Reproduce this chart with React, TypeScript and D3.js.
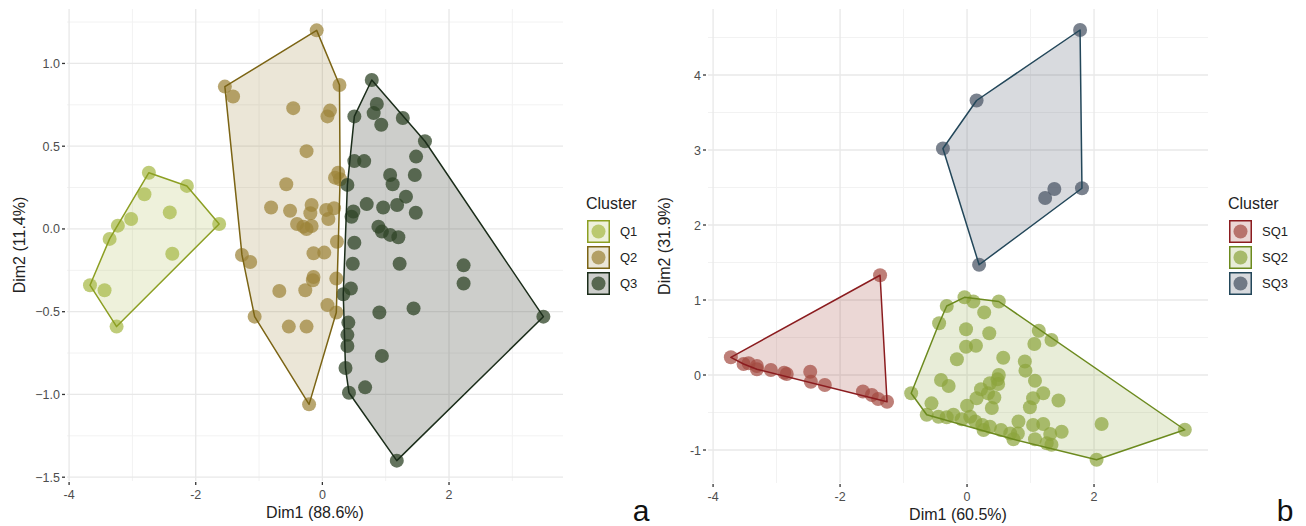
import React from 'react';
import * as d3 from 'd3';

type Pt = [number, number];

// panel a: PCA coordinates per cluster (Dim1, Dim2)
const q1Points: Pt[] = [
  [-2.74, 0.34], [-2.81, 0.21], [-2.14, 0.26], [-2.41, 0.10], [-3.02, 0.06], [-3.23, 0.02],
  [-1.63, 0.03], [-3.36, -0.06], [-2.37, -0.15], [-3.67, -0.34], [-3.44, -0.37], [-3.25, -0.59],
];
const q2Points: Pt[] = [
  [-0.09, 1.2], [-1.54, 0.86], [-1.41, 0.8], [0.27, 0.87], [-0.46, 0.73], [0.12, 0.715],
  [0.08, 0.68], [-0.25, 0.47], [-0.57, 0.27], [0.25, 0.34], [0.2, 0.31], [0.28, 0.3],
  [-0.81, 0.13], [-0.51, 0.11], [-0.17, 0.145], [-0.19, 0.095], [0.06, 0.115], [0.185, 0.125],
  [0.095, 0.06], [-0.4, 0.03], [-0.3, 0.014], [-0.17, 0.018], [-0.25, 0.0], [0.23, -0.077],
  [-1.27, -0.157], [-1.14, -0.2], [-0.14, -0.147], [0.03, -0.143], [-0.14, -0.29], [-0.15, -0.31],
  [0.22, -0.3], [-0.68, -0.375], [-0.27, -0.37], [0.08, -0.46], [0.22, -0.505], [-1.07, -0.53],
  [-0.53, -0.59], [-0.25, -0.59], [-0.21, -1.06],
];
const q3Points: Pt[] = [
  [0.78, 0.9], [0.86, 0.755], [0.81, 0.7], [0.505, 0.68], [0.93, 0.63], [1.27, 0.67],
  [1.62, 0.53], [1.48, 0.437], [0.505, 0.41], [0.66, 0.41], [1.46, 0.326], [1.07, 0.326],
  [1.11, 0.27], [0.395, 0.266], [1.32, 0.195], [0.7, 0.15], [0.96, 0.13], [1.18, 0.145],
  [1.475, 0.098], [0.49, 0.105], [0.46, 0.074], [0.885, 0.014], [0.94, -0.016], [1.07, -0.036],
  [1.2, -0.05], [0.505, -0.083], [0.48, -0.21], [1.22, -0.21], [2.23, -0.22], [2.23, -0.33],
  [0.45, -0.36], [0.33, -0.395], [0.9, -0.505], [1.44, -0.48], [0.41, -0.566], [0.395, -0.64],
  [0.395, -0.707], [0.94, -0.767], [0.365, -0.84], [0.675, -0.957], [0.42, -0.99], [1.175, -1.4],
  [3.49, -0.53],
];

// panel b
const sq1Points: Pt[] = [
  [-1.37, 1.33], [-3.72, 0.236], [-3.52, 0.147], [-3.44, 0.156], [-3.31, 0.12], [-3.31, 0.076],
  [-3.09, 0.067], [-2.88, 0.03], [-2.84, 0.013], [-2.47, 0.044], [-2.46, -0.09], [-2.24, -0.133],
  [-1.64, -0.22], [-1.5, -0.267], [-1.4, -0.32], [-1.26, -0.356],
];
const sq2Points: Pt[] = [
  [-0.04, 1.036], [0.1, 0.98], [-0.32, 0.92], [0.5, 0.98], [0.27, 0.835], [-0.44, 0.69],
  [-0.016, 0.61], [0.35, 0.556], [1.13, 0.59], [1.33, 0.467], [1.06, 0.413], [-0.016, 0.377],
  [0.14, 0.39], [0.57, 0.23], [-0.16, 0.21], [0.91, 0.18], [0.92, 0.058], [0.5, 0.0],
  [0.48, -0.058], [0.49, -0.12], [0.36, -0.11], [-0.41, -0.067], [-0.29, -0.147], [1.07, -0.076],
  [0.22, -0.19], [0.33, -0.244], [0.43, -0.3], [1.2, -0.244], [1.04, -0.31], [1.44, -0.34],
  [-0.88, -0.244], [-0.56, -0.378], [0.0, -0.41], [0.15, -0.31], [0.39, -0.44], [0.99, -0.43],
  [-0.635, -0.53], [-0.45, -0.556], [-0.32, -0.564], [-0.215, -0.53], [-0.083, -0.59], [0.05, -0.556],
  [0.13, -0.62], [0.24, -0.667], [0.26, -0.733], [0.36, -0.69], [0.535, -0.733], [0.68, -0.78],
  [0.81, -0.62], [0.8, -0.78], [1.04, -0.667], [1.2, -0.653], [1.31, -0.787], [1.49, -0.756],
  [1.07, -0.857], [1.255, -0.91], [1.33, -0.93], [0.73, -0.857], [2.12, -0.653], [2.04, -1.13],
  [3.43, -0.73],
];
const sq3Points: Pt[] = [
  [1.78, 4.6], [0.15, 3.66], [-0.38, 3.02], [1.375, 2.48], [1.23, 2.36], [1.81, 2.49], [0.19, 1.47],
];

const clusterNamesA = ['Q1', 'Q2', 'Q3'];
const clusterNamesB = ['SQ1', 'SQ2', 'SQ3'];
const xTicksA = [-4, -2, 0, 2];
const yTicksA = [-1.5, -1.0, -0.5, 0.0, 0.5, 1.0];
const xTicksB = [-4, -2, 0, 2];
const yTicksB = [-1, 0, 1, 2, 3, 4];

const FONT = '"Liberation Sans", Arial, Helvetica, sans-serif';

interface ClusterStyle {
  name: string;
  points: Pt[];
  point: string;
  pointOpacity: number;
  line: string;
  fill: string;
  fillOpacity: number;
}

interface PanelProps {
  left: number; right: number; top: number; bottom: number;
  xDomain: [number, number]; yDomain: [number, number];
  xTicks: number[]; yTicks: number[];
  yFormat: (v: number) => string;
  clusters: ClusterStyle[];
  xTitle: string; yTitle: string; yTitleX: number;
  legendX: number;
  letter: string; letterX: number;
}

function minors(ticks: number[], domain: [number, number]) {
  const step = ticks[1] - ticks[0];
  return d3.range(ticks[0] - step / 2, domain[1], step).filter(v => v > domain[0] && v < domain[1]);
}

function Panel(props: PanelProps) {
  const { left, right, top, bottom, xDomain, yDomain, xTicks, yTicks, yFormat, clusters } = props;
  const x = d3.scaleLinear().domain(xDomain).range([left, right]);
  const y = d3.scaleLinear().domain(yDomain).range([bottom, top]);
  const xMinor = minors(xTicks, xDomain);
  const yMinor = minors(yTicks, yDomain);

  const hulls = clusters.map(c => d3.polygonHull(c.points.map(p => [x(p[0]), y(p[1])] as [number, number])));

  return (
    <g>
      {/* grid */}
      {xMinor.map(v => <line key={'xm' + v} x1={x(v)} x2={x(v)} y1={top} y2={bottom} stroke="#f2f2f2" strokeWidth={1} />)}
      {yMinor.map(v => <line key={'ym' + v} x1={left} x2={right} y1={y(v)} y2={y(v)} stroke="#f2f2f2" strokeWidth={1} />)}
      {xTicks.map(v => <line key={'xg' + v} x1={x(v)} x2={x(v)} y1={top} y2={bottom} stroke="#e8e8e8" strokeWidth={1.3} />)}
      {yTicks.map(v => <line key={'yg' + v} x1={left} x2={right} y1={y(v)} y2={y(v)} stroke="#e8e8e8" strokeWidth={1.3} />)}

      {/* hull fills */}
      {hulls.map((h, i) => h && (
        <path key={'hf' + i} d={'M' + h.join('L') + 'Z'} fill={clusters[i].fill} fillOpacity={clusters[i].fillOpacity} stroke="none" />
      ))}
      {/* points */}
      {clusters.map((c, i) => (
        <g key={'pts' + i}>
          {c.points.map((p, j) => (
            <circle key={j} cx={x(p[0])} cy={y(p[1])} r={7} fill={c.point} fillOpacity={c.pointOpacity} />
          ))}
        </g>
      ))}
      {/* hull outlines */}
      {hulls.map((h, i) => h && (
        <path key={'hs' + i} d={'M' + h.join('L') + 'Z'} fill="none" stroke={clusters[i].line} strokeWidth={1.5} strokeLinejoin="round" />
      ))}

      {/* axes */}
      {xTicks.map(v => (
        <g key={'xt' + v}>
          <line x1={x(v)} x2={x(v)} y1={bottom + 1} y2={bottom + 4} stroke="#333" strokeWidth={1.3} />
          <text x={x(v)} y={bottom + 18} textAnchor="middle" fontSize={12.5} fill="#4d4d4d" fontFamily={FONT}>{v}</text>
        </g>
      ))}
      {yTicks.map(v => (
        <g key={'yt' + v}>
          <line x1={left - 5} x2={left - 2} y1={y(v)} y2={y(v)} stroke="#333" strokeWidth={1.3} />
          <text x={left - 7} y={y(v) + 4.5} textAnchor="end" fontSize={12.5} fill="#4d4d4d" fontFamily={FONT}>{yFormat(v)}</text>
        </g>
      ))}
      <text x={(left + right) / 2} y={bottom + 37} textAnchor="middle" fontSize={16} fill="#222" fontFamily={FONT}>{props.xTitle}</text>
      <text transform={`translate(${props.yTitleX},${(top + bottom) / 2}) rotate(-90)`} textAnchor="middle" fontSize={16} fill="#222" fontFamily={FONT}>{props.yTitle}</text>

      {/* legend */}
      <text x={props.legendX} y={209} fontSize={16} fill="#222" fontFamily={FONT}>Cluster</text>
      {clusters.map((c, i) => (
        <g key={'lg' + i} transform={`translate(${props.legendX + 1},${220 + i * 26})`}>
          <rect x={0} y={0} width={23} height={23} fill="#fff" stroke="none" />
          <rect x={0.75} y={0.75} width={21.5} height={21.5} fill={c.fill} fillOpacity={c.fillOpacity} stroke={c.line} strokeWidth={1.5} />
          <circle cx={11.5} cy={11.5} r={7} fill={c.point} fillOpacity={c.pointOpacity} />
          <text x={33} y={16} fontSize={13} fill="#222" fontFamily={FONT}>{c.name}</text>
        </g>
      ))}

      <text x={props.letterX} y={521} fontSize={30} fill="#111" fontFamily={FONT} textAnchor="middle">{props.letter}</text>
    </g>
  );
}

export default function App() {
  const clustersA: ClusterStyle[] = [
    { name: clusterNamesA[0], points: q1Points, point: '#a9bb4c', pointOpacity: 0.75, line: '#8c9f22', fill: '#a9bb4c', fillOpacity: 0.2 },
    { name: clusterNamesA[1], points: q2Points, point: '#9c8339', pointOpacity: 0.72, line: '#7b6414', fill: '#9c8339', fillOpacity: 0.2 },
    { name: clusterNamesA[2], points: q3Points, point: '#2f4427', pointOpacity: 0.75, line: '#1b2d1a', fill: '#595e52', fillOpacity: 0.3 },
  ];
  const clustersB: ClusterStyle[] = [
    { name: clusterNamesB[0], points: sq1Points, point: '#a3483f', pointOpacity: 0.7, line: '#8b1c1f', fill: '#a3483f', fillOpacity: 0.22 },
    { name: clusterNamesB[1], points: sq2Points, point: '#8ba43c', pointOpacity: 0.7, line: '#6c8a1e', fill: '#8ba43c', fillOpacity: 0.2 },
    { name: clusterNamesB[2], points: sq3Points, point: '#4e5868', pointOpacity: 0.75, line: '#23475a', fill: '#4e5868', fillOpacity: 0.22 },
  ];

  return (
    <svg width={1306} height={526} style={{ position: 'absolute', left: 0, top: 0, background: '#fff' }}>
      <rect width={1306} height={526} fill="#fff" />
      <Panel
        left={67} right={563} top={9} bottom={481}
        xDomain={[-4.033, 3.8]} yDomain={[-1.523, 1.329]}
        xTicks={xTicksA} yTicks={yTicksA} yFormat={v => d3.format('.1f')(v)}
        clusters={clustersA}
        xTitle="Dim1 (88.6%)" yTitle="Dim2 (11.4%)" yTitleX={25}
        legendX={586} letter="a" letterX={641}
      />
      <Panel
        left={708} right={1208} top={9} bottom={483}
        xDomain={[-4.08, 3.795]} yDomain={[-1.44, 4.88]}
        xTicks={xTicksB} yTicks={yTicksB} yFormat={v => String(v)}
        clusters={clustersB}
        xTitle="Dim1 (60.5%)" yTitle="Dim2 (31.9%)" yTitleX={670}
        legendX={1228} letter="b" letterX={1285}
      />
    </svg>
  );
}
